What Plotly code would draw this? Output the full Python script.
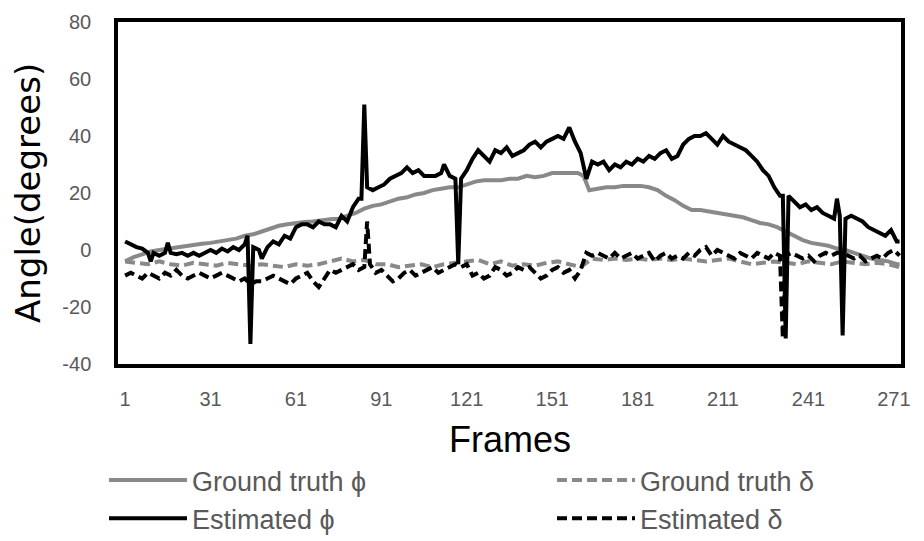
import plotly.graph_objects as go

# ---------------- data ----------------
gt_phi_frames = [1, 4, 7, 10, 13, 16, 19, 22, 25, 28, 31, 34, 37, 40, 43, 46, 49, 52, 55, 58,
                 61, 64, 67, 70, 73, 76, 79, 82, 85, 88, 91, 94, 97, 100, 103, 106, 109, 112, 115, 118,
                 121, 124, 127, 130, 133, 136, 139, 142, 145, 148, 151, 154, 157, 160, 162, 164, 167, 170, 173, 176,
                 179, 182, 185, 188, 191, 194, 197, 200, 203, 206, 209, 212, 215, 218, 221, 224, 227, 230, 233, 236,
                 239, 242, 245, 248, 251, 254, 257, 260, 263, 266, 269, 272, 273]
gt_phi = [-4, -2.5, -1.5, -0.5, 0, 0.5, 1, 1.2, 1.8, 2.2, 2.5, 3, 3.5, 4, 5, 5.5, 6.5, 7.5, 8.5, 9,
          9.5, 9.8, 10, 10.5, 10.8, 11, 12, 13, 14.5, 15.5, 16, 17, 18, 18.5, 19.5, 20, 21, 21.5, 22, 22,
          23, 24, 24.5, 24.5, 24.5, 25, 25, 26, 25.5, 26, 27, 27, 27, 27, 26, 21, 21.5, 22, 22, 22.5,
          22.5, 22.5, 22, 21, 19, 17.5, 15.5, 14, 14, 13.5, 13, 12.5, 12, 11.5, 10.5, 9.5, 9, 8, 6.5, 5,
          3.5, 2.5, 2, 1.5, 0.5, 0, -1, -2, -3, -3.5, -4, -5, -5]

gt_delta_frames = [1, 5, 9, 13, 17, 21, 25, 29, 33, 37, 41, 45, 49, 53, 57, 61, 65, 69, 73, 77,
                   81, 85, 89, 93, 97, 101, 105, 109, 113, 117, 121, 125, 129, 133, 137, 141, 145, 149, 153, 157,
                   161, 165, 169, 173, 177, 181, 185, 189, 193, 197, 201, 205, 209, 213, 217, 221, 225, 229, 233, 237,
                   241, 245, 249, 253, 257, 261, 265, 269, 273]
gt_delta = [-4, -4.5, -5, -4, -5, -5.5, -4.5, -5, -5.5, -4.5, -5, -5.5, -5, -5.5, -6, -5, -5.5, -5, -4, -3,
            -4, -3.5, -5, -5, -6, -5.5, -5, -6, -5, -4.5, -4, -3.5, -5, -4, -5.5, -5, -5.5, -4.5, -4, -5,
            -6, -3, -3.5, -3, -3.5, -3, -3.5, -3, -3.5, -3, -3.5, -4, -3.5, -3, -4, -5, -4.5, -4, -4.5, -5,
            -4, -4.5, -5, -4, -4.5, -5, -4.5, -5, -6]

est_phi_frames = [1, 3, 5, 7, 9, 10, 11, 13, 15, 16, 17, 19, 21, 23, 25, 27, 29, 31, 33, 35,
                  37, 39, 41, 43, 44, 45, 46, 48, 49, 51, 53, 55, 57, 59, 61, 63, 65, 67, 69, 71,
                  73, 75, 77, 79, 81, 83, 84, 85, 86, 88, 90, 92, 94, 96, 98, 100, 102, 104, 106, 108,
                  110, 112, 113, 115, 117, 118, 119, 121, 123, 125, 127, 129, 131, 133, 135, 137, 139, 141, 143, 145,
                  147, 149, 151, 153, 155, 157, 159, 161, 163, 165, 167, 169, 171, 173, 175, 177, 179, 181, 183, 185,
                  187, 189, 191, 193, 195, 197, 199, 201, 203, 205, 207, 209, 211, 213, 215, 217, 219, 221, 223, 225,
                  227, 229, 231, 232, 233, 234, 236, 238, 240, 242, 244, 246, 248, 250, 251, 252, 253, 254, 256, 258,
                  260, 262, 264, 266, 268, 270, 272, 273]
est_phi = [3, 2, 1, 0.5, -1, -4, -1, -2, -1, 2.5, -1, -1.5, -1, -2, -1, -2, -1, 0, -1, 0.5,
           -0.5, 1, 0, 2, 5, -33, 1, 0, -3, 1, 3, 2, 5, 4, 8, 9, 9, 8, 10, 9,
           9, 8, 12, 10, 15, 18, 18, 51, 22, 21, 22, 23, 25, 26, 27, 29, 27, 28, 26, 26,
           26, 27, 30, 26, 25, -5, 25, 28, 32, 35, 33, 31, 35, 34, 36, 33, 34, 35, 37, 38,
           36, 38, 39, 40, 39, 43, 38, 34, 25, 31, 30, 31, 28, 30, 29, 31, 30, 32, 31, 33,
           32, 34, 35, 32, 33, 37, 39, 40, 40, 41, 39, 37, 40, 38, 37, 36, 35, 33, 31, 28,
           26, 22, 19, 19, -31, 19, 17, 15, 16, 14, 15, 13, 12, 11, 18, 12, -30, 11, 12, 11,
           10, 8, 7, 6, 5, 7, 3, 3]

est_delta_frames = [1, 3, 5, 7, 9, 11, 13, 15, 17, 19, 21, 23, 25, 27, 29, 31, 33, 35, 37, 39,
                    41, 43, 45, 47, 49, 51, 53, 55, 57, 59, 61, 63, 65, 67, 69, 71, 73, 75, 77, 79,
                    81, 83, 85, 86, 87, 89, 91, 93, 95, 97, 99, 101, 103, 105, 107, 109, 111, 113, 115, 117,
                    119, 121, 123, 125, 127, 129, 131, 133, 135, 137, 139, 141, 143, 145, 147, 149, 151, 153, 155, 157,
                    159, 161, 163, 165, 167, 169, 171, 173, 175, 177, 179, 181, 183, 185, 187, 189, 191, 193, 195, 197,
                    199, 201, 203, 205, 207, 209, 211, 213, 215, 217, 219, 221, 223, 225, 227, 229, 231, 232, 233, 235,
                    237, 239, 241, 243, 245, 247, 249, 251, 253, 255, 257, 259, 261, 263, 265, 267, 269, 271, 273]
est_delta = [-9, -8, -9, -10, -8, -9, -10, -8, -9, -7, -9, -10, -9, -8, -9, -10, -9, -8, -9, -10,
             -11, -10, -12, -11, -11, -10, -9, -10, -11, -12, -10, -9, -8, -11, -13, -10, -7, -8, -7, -6,
             -5, -7, -6, 10, -5, -8, -7, -9, -11, -10, -8, -7, -9, -8, -7, -6, -8, -7, -6, -5,
             -6, -5, -9, -8, -10, -9, -6, -7, -9, -8, -6, -7, -6, -8, -10, -9, -7, -6, -8, -7,
             -10, -7, -1, -2, -1, -2, -3, -1, -3, -2, -1, -3, -2, -1, -4, -2, -1, -3, -2, -3,
             -1, -2, 0, 1, -2, 0, -1, -2, -3, -1, -2, -3, -1, -2, -3, -1, -2, -31, -2, -1,
             -2, -3, -2, -4, -2, -1, -2, -1, -1, -2, -3, -2, -4, -3, -2, -3, -1, 0, -2]

x_tick_vals = [1, 31, 61, 91, 121, 151, 181, 211, 241, 271]
y_tick_vals = [-40, -20, 0, 20, 40, 60, 80]
y_tick_text = ["-40", "-20", "0", "20", "40", "60", "80"]

series_names = ["Ground truth ϕ", "Ground truth δ", "Estimated ϕ", "Estimated δ"]
x_title = "Frames"
y_title = "Angle(degrees)"

# ---------------- figure ----------------
GRAY = "#898989"
TXT = "#595959"
LBL_FONT = "Liberation Sans, Arial"
LW = 4

fig = go.Figure()
fig.add_trace(go.Scatter(x=gt_phi_frames, y=gt_phi, mode="lines", name=series_names[0],
                         line=dict(color=GRAY, width=LW), legend="legend"))
fig.add_trace(go.Scatter(x=gt_delta_frames, y=gt_delta, mode="lines", name=series_names[1],
                         line=dict(color=GRAY, width=LW, dash="10px,5px"), legend="legend2"))
fig.add_trace(go.Scatter(x=est_phi_frames, y=est_phi, mode="lines", name=series_names[2],
                         line=dict(color="black", width=LW), legend="legend"))
fig.add_trace(go.Scatter(x=est_delta_frames, y=est_delta, mode="lines", name=series_names[3],
                         line=dict(color="black", width=LW, dash="10px,5px"), legend="legend2"))

leg_common = dict(orientation="v", xref="container", yref="container", yanchor="top",
                  xanchor="left", y=1 - 456 / 541,
                  font=dict(family=LBL_FONT, size=27, color=TXT),
                  traceorder="normal", itemwidth=78, bgcolor="rgba(0,0,0,0)")

fig.update_layout(
    width=924, height=541,
    margin=dict(l=118, r=23, t=22, b=177, autoexpand=False),
    paper_bgcolor="white", plot_bgcolor="white",
    showlegend=True,
    legend=dict(leg_common, x=104 / 924),
    legend2=dict(leg_common, x=552 / 924),
    annotations=[
        dict(text=y_title, xref="paper", yref="paper", x=0, y=0.5, xanchor="center", yanchor="middle",
             xshift=-90, textangle=-90, showarrow=False,
             font=dict(family="DejaVu Sans", size=34, color="black")),
        dict(text=x_title, xref="paper", yref="paper", x=0.5, y=0, xanchor="center", yanchor="middle",
             yshift=-75, showarrow=False,
             font=dict(family=LBL_FONT, size=36, color="black")),
    ],
)
fig.update_xaxes(range=[-1.5, 273.5], tickmode="array", tickvals=x_tick_vals,
                 ticktext=[str(v) for v in x_tick_vals], automargin=False,
                 showgrid=False, zeroline=False, showline=True, linecolor="black", linewidth=3.5,
                 mirror=True, ticks="", ticklabelstandoff=14,
                 tickfont=dict(family=LBL_FONT, size=20, color=TXT))
fig.update_yaxes(range=[-40, 80], tickmode="array", tickvals=y_tick_vals, ticktext=y_tick_text,
                 automargin=False,
                 showgrid=False, zeroline=False, showline=True, linecolor="black", linewidth=3.5,
                 mirror=True, ticks="", ticklabelstandoff=19,
                 tickfont=dict(family=LBL_FONT, size=20, color=TXT))

fig.write_html("out.html")
